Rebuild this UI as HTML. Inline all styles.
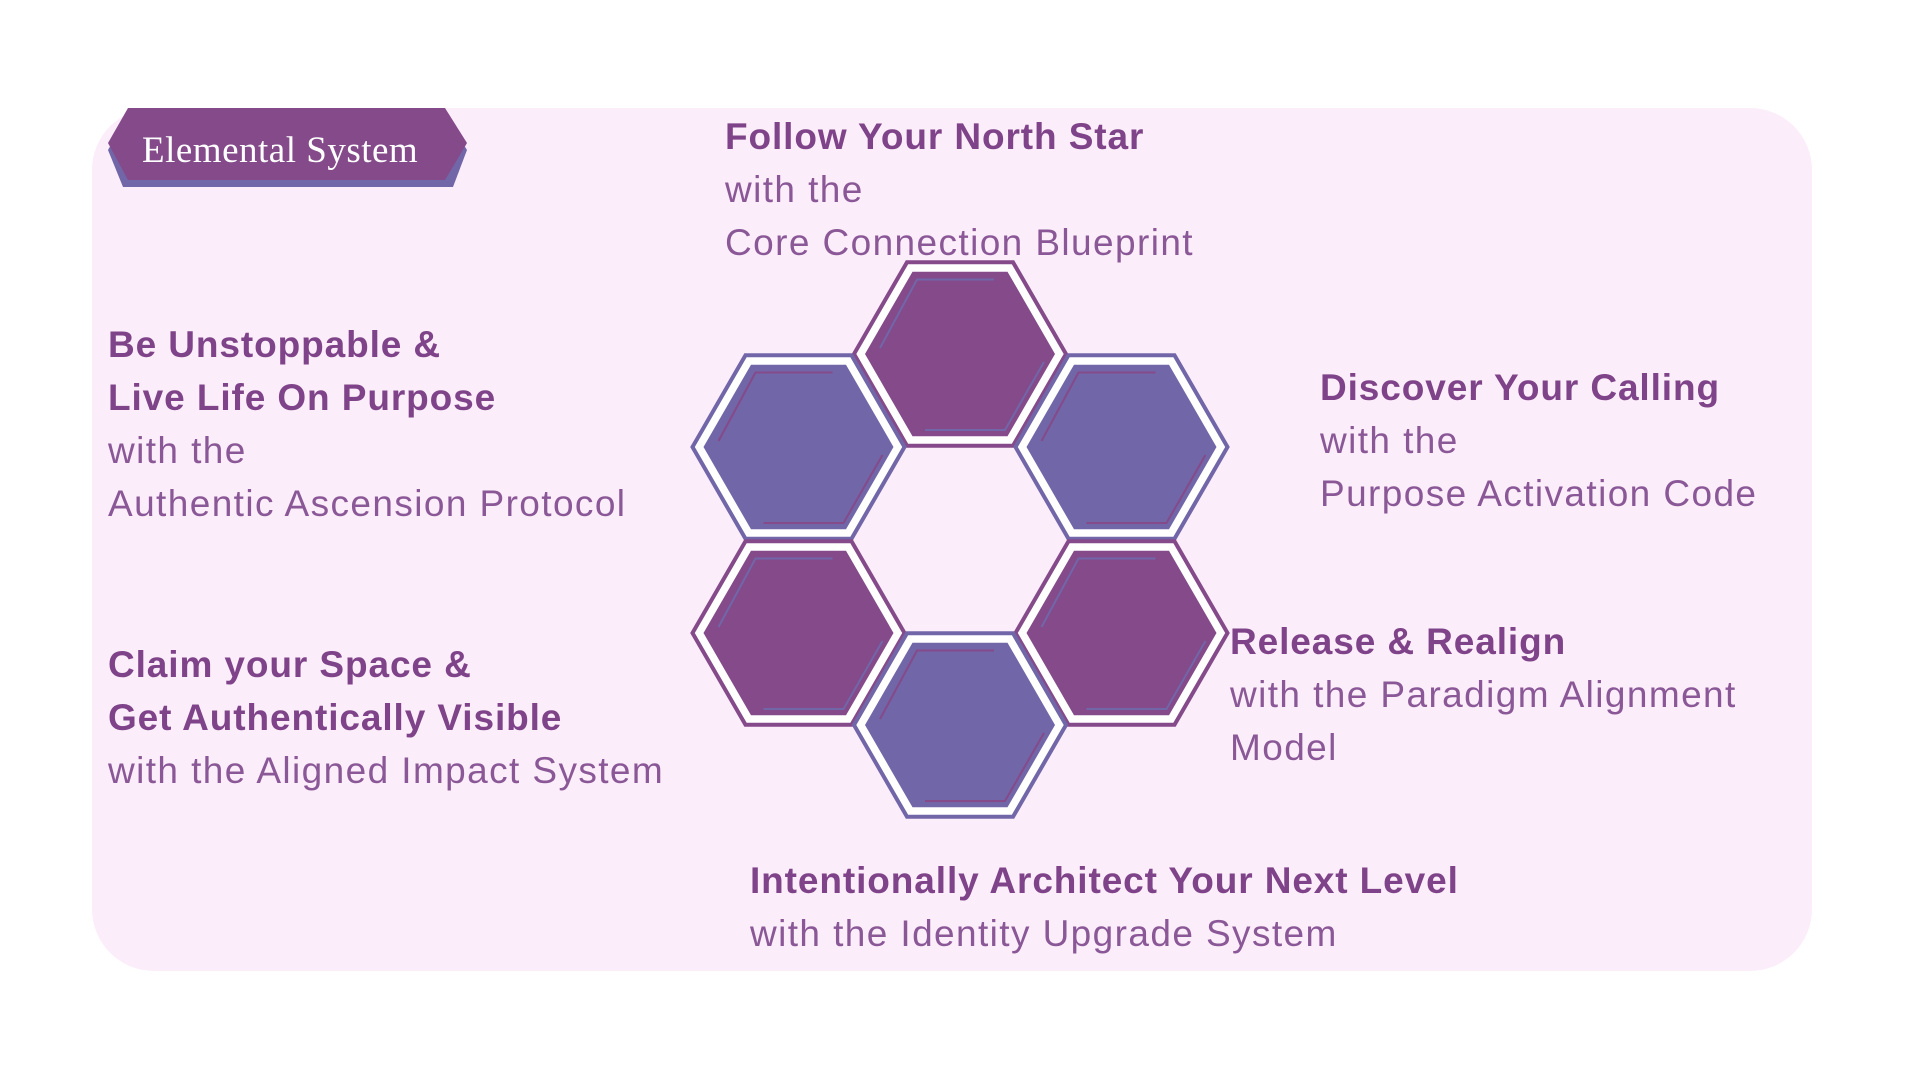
<!DOCTYPE html>
<html><head><meta charset="utf-8"><style>
html,body{margin:0;padding:0;background:#fff;width:1920px;height:1080px;overflow:hidden;position:relative;font-family:"Liberation Sans",sans-serif}
.card{position:absolute;left:92px;top:108px;width:1720px;height:863px;background:#fcedfa;border-radius:62px}
.t{position:absolute;font-size:37px;line-height:53px;color:#8a5897;white-space:nowrap;letter-spacing:1.4px}
.t b{color:#7e4388;font-weight:bold;letter-spacing:0.9px}
svg{position:absolute;left:0;top:0}
</style></head><body>
<div class="card"></div>
<svg width="1920" height="1080" viewBox="0 0 1920 1080">
<polygon points="128,115 445,115 467,150 453,187 123,187 108,150" fill="#7166a8"/>
<polygon points="128,108 445,108 467,143 445,180 128,180 108,143" fill="#844a8a"/>
<text x="142" y="162" font-family="Liberation Serif, serif" font-size="37" letter-spacing="0.5" fill="#fff">Elemental System</text>
<defs>
<g id="hp"><polygon points="-106,0 -53,-91.8 53,-91.8 106,0 53,91.8 -53,91.8" fill="#fff" stroke="#844a8a" stroke-width="4"/><polygon points="-95,0 -47.5,-82.3 47.5,-82.3 95,0 47.5,82.3 -47.5,82.3" fill="#844a8a"/><polyline points="-80,-6 -43,-74.5 34,-74.5" fill="none" stroke="#7166a8" stroke-width="2"/><polyline points="-35,76 45,76 84,8" fill="none" stroke="#7166a8" stroke-width="2"/></g>
<g id="hb"><polygon points="-106,0 -53,-91.8 53,-91.8 106,0 53,91.8 -53,91.8" fill="#fff" stroke="#7166a8" stroke-width="4"/><polygon points="-95,0 -47.5,-82.3 47.5,-82.3 95,0 47.5,82.3 -47.5,82.3" fill="#7166a8"/><polyline points="-80,-6 -43,-74.5 34,-74.5" fill="none" stroke="#844a8a" stroke-width="2"/><polyline points="-35,76 45,76 84,8" fill="none" stroke="#844a8a" stroke-width="2"/></g>
</defs>
<use href="#hp" x="960" y="354"/>
<use href="#hb" x="798.5" y="447"/>
<use href="#hb" x="1121.5" y="447"/>
<use href="#hp" x="798.5" y="633"/>
<use href="#hp" x="1121.5" y="633"/>
<use href="#hb" x="960" y="725"/>
</svg>
<div class="t" style="left:725px;top:110px"><b>Follow Your North Star</b><br>with the<br>Core Connection Blueprint</div>
<div class="t" style="left:108px;top:318px"><b>Be Unstoppable &amp;</b><br><b>Live Life On Purpose</b><br>with the<br>Authentic Ascension Protocol</div>
<div class="t" style="left:1320px;top:361px"><b>Discover Your Calling</b><br>with the<br>Purpose Activation Code</div>
<div class="t" style="left:108px;top:638px"><b>Claim your Space &amp;</b><br><b>Get Authentically Visible</b><br>with the Aligned Impact System</div>
<div class="t" style="left:1230px;top:615px"><b>Release &amp; Realign</b><br>with the Paradigm Alignment<br>Model</div>
<div class="t" style="left:750px;top:854px"><b>Intentionally Architect Your Next Level</b><br>with the Identity Upgrade System</div>
</body></html>
